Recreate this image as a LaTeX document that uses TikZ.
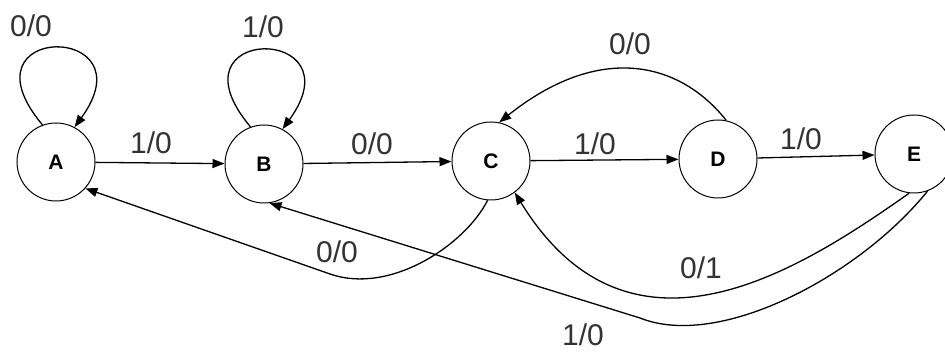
\documentclass[tikz,border=0pt]{standalone}
\usepackage{fontspec}
\setmainfont{Liberation Sans}
\usetikzlibrary{arrows.meta}
\begin{document}
\begin{tikzpicture}[x=1pt,y=-1pt,
 state/.style={circle,draw,line width=1pt,minimum size=78pt,inner sep=0pt,font=\fontsize{21}{21}\selectfont\bfseries},
 edge/.style={line width=1.3pt,-{Triangle[length=12pt,width=9pt]}},
 lab/.style={font=\fontsize{30}{30}\selectfont,text=black!80,inner sep=0pt}]
\useasboundingbox (0,0) rectangle (945,352);
\node[state] (A) at (56,162) {A};
\node[state] (B) at (264,164) {B};
\node[state] (C) at (491,161) {C};
\node[state] (D) at (718,159) {D};
\node[state] (E) at (914,154) {E};
% straight transitions
\draw[edge] (A) -- (B);
\draw[edge] (B) -- (C);
\draw[edge] (C) -- (D);
\draw[edge] (D) -- (E);
% self loops
\draw[edge] (A.110) .. controls (-44,22) and (151,22) .. (A.62);
\draw[edge] (B.110) .. controls (164,24) and (359,24) .. (B.62);
% D -> C
\draw[edge] (D.78) .. controls (680,62) and (600,42) .. (C.78);
% C -> A
\coordinate (ca) at (330,274);
\draw[edge] (C.-95) .. controls (465,245) and (390,295) .. (ca) -- (A.-42);
% E -> C
\draw[edge] (E.-97) .. controls (800,270) and (630,380) .. (C.-53);
% E -> B
\coordinate (eb) at (640,318);
\draw[edge] (E.-70) .. controls (860,275) and (720,350) .. (eb) -- (B.-82);
% labels
\node[lab] (l1) at (31,26) {0/0};
\node[lab] (l2) at (263,27) {1/0};
\node[lab] (l3) at (151,143) {1/0};
\node[lab] (l4) at (372,144) {0/0};
\node[lab] (l5) at (595,144) {1/0};
\node[lab] (l6) at (630,44) {0/0};
\node[lab] (l7) at (801,139) {1/0};
\node[lab] (l8) at (337,252) {0/0};
\node[lab] (l9) at (701,268) {0/1};
\node[lab] (l10) at (583,335) {1/0};
\end{tikzpicture}
\end{document}
